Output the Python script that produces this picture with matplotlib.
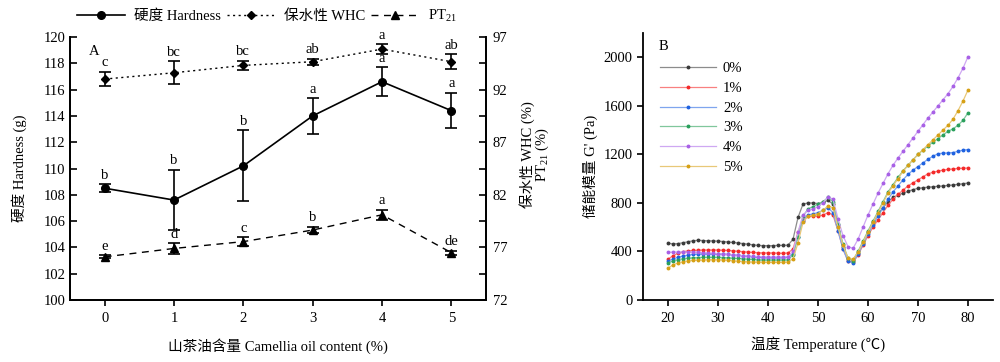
import matplotlib
matplotlib.use("Agg")
import matplotlib.pyplot as plt
from matplotlib.lines import Line2D
import numpy as np

plt.rcParams['font.family'] = ['Liberation Serif', 'Noto Sans CJK SC', 'DejaVu Sans']
plt.rcParams['mathtext.fontset'] = 'custom'
plt.rcParams['mathtext.rm'] = 'Liberation Serif'
plt.rcParams['axes.unicode_minus'] = False

# ---------------- Panel A data ----------------
oil = [0, 1, 2, 3, 4, 5]
hardness = [108.5, 107.6, 110.2, 114.0, 116.6, 114.4]
hardness_err = [0.3, 2.3, 2.7, 1.35, 1.1, 1.35]
hardness_sig = ['b', 'b', 'b', 'a', 'a', 'a']
whc = [93.0, 93.6, 94.3, 94.65, 95.85, 94.65]
whc_err = [0.7, 1.1, 0.45, 0.3, 0.45, 0.7]
whc_sig = ['c', 'bc', 'bc', 'ab', 'a', 'ab']
pt21 = [76.1, 76.9, 77.55, 78.65, 80.1, 76.5]
pt21_err = [0.15, 0.5, 0.4, 0.3, 0.45, 0.2]
pt21_sig = ['e', 'd', 'c', 'b', 'a', 'de']

# ---------------- Panel B data ----------------
temperature = list(range(20, 81))
g_0 = [468, 462, 465, 472, 480, 488, 492, 490, 488, 487, 485, 482, 478, 474, 470, 465, 460, 455, 450, 448,
       448, 448, 450, 450, 452, 500, 680, 790, 800, 800, 795, 805, 820, 790, 620, 440, 340, 330, 390, 470,
       560, 640, 710, 760, 810, 845, 865, 880, 895, 910, 920, 925, 930, 933, 937, 940, 944, 948, 953, 958, 964]
g_1 = [336, 365, 385, 398, 405, 408, 410, 412, 412, 412, 412, 410, 408, 405, 402, 398, 395, 392, 390, 388,
       388, 388, 386, 385, 388, 420, 560, 660, 690, 695, 690, 700, 720, 700, 570, 420, 320, 310, 370, 450,
       530, 600, 660, 720, 780, 830, 870, 905, 940, 965, 990, 1015, 1040, 1052, 1062, 1070, 1076, 1080, 1084, 1086, 1087]
g_2 = [320, 338, 352, 362, 370, 375, 378, 380, 380, 380, 380, 378, 375, 372, 368, 365, 360, 356, 353, 350,
       350, 350, 350, 350, 352, 380, 520, 650, 700, 710, 720, 740, 760, 720, 570, 420, 320, 305, 380, 460,
       545, 620, 690, 760, 830, 890, 940, 990, 1035, 1070, 1100, 1130, 1160, 1185, 1205, 1210, 1212, 1215, 1225, 1235, 1240]
g_3 = [305, 322, 333, 340, 345, 348, 350, 352, 352, 352, 352, 350, 348, 345, 342, 340, 337, 334, 332, 330,
       330, 330, 330, 330, 332, 370, 520, 690, 750, 770, 790, 810, 845, 810, 630, 460, 345, 325, 400, 485,
       570, 650, 730, 810, 890, 950, 1010, 1065, 1110, 1155, 1200, 1235, 1270, 1300, 1330, 1360, 1390, 1410, 1440, 1480, 1543]
g_4 = [392, 395, 395, 395, 395, 395, 393, 390, 388, 385, 382, 378, 375, 372, 368, 365, 362, 360, 358, 356,
       355, 355, 355, 355, 357, 400, 560, 700, 740, 750, 770, 800, 850, 830, 670, 530, 440, 425, 500, 600,
       700, 790, 880, 960, 1040, 1110, 1170, 1225, 1280, 1335, 1390, 1445, 1500, 1550, 1600, 1650, 1700, 1760, 1830, 1910, 2005]
g_5 = [262, 290, 305, 315, 322, 326, 328, 330, 332, 332, 332, 330, 327, 323, 320, 317, 315, 313, 312, 311,
       310, 310, 310, 310, 312, 340, 470, 640, 690, 700, 710, 740, 775, 760, 600, 450, 345, 335, 395, 475,
       560, 640, 720, 800, 880, 940, 1000, 1060, 1110, 1155, 1200, 1240, 1280, 1320, 1360, 1400, 1440, 1490, 1560, 1640, 1730]
series_labels = ['0%', '1%', '2%', '3%', '4%', '5%']
series_colors = ['#3a3a3a', '#f42a2a', '#1f62e0', '#2aa05c', '#a860e6', '#d6a015']
line_colors = ['#8c8c8c', '#f88080', '#7fa5ee', '#80c79c', '#cfa8f2', '#e8c878']

fig = plt.figure(figsize=(10, 3.62), dpi=100)

# ---------------- Panel A ----------------
ax = fig.add_axes([0.070, 62 / 362, 0.416, 263 / 362])
ax2 = ax.twinx()
fs = 10.5
ls_whc = (0, (1.5, 2.5))
ls_pt = (0, (5, 4))

ax.errorbar(oil, hardness, yerr=hardness_err, color='black', lw=1.2, marker='o', ms=5.5,
            capsize=4, elinewidth=1.2, capthick=1.2, ls='-')
ax2.errorbar(oil, whc, yerr=whc_err, color='black', lw=1.0, marker='D', ms=4.5,
             capsize=4, elinewidth=1.2, capthick=1.2, ls=ls_whc)
ax2.errorbar(oil, pt21, yerr=pt21_err, color='black', lw=1.0, marker='^', ms=6,
             capsize=4, elinewidth=1.2, capthick=1.2, ls=ls_pt)

ax.set_xlim(-0.5, 5.5)
ax.set_ylim(100, 120)
ax.set_yticks(np.arange(100, 121, 2))
ax2.set_ylim(72, 97)
ax2.set_yticks([72, 77, 82, 87, 92, 97])
ax2.set_yticks(np.arange(74.5, 97, 5), minor=True)
ax.set_xticks(oil)

for a in (ax, ax2):
    a.spines['top'].set_visible(False)
    for s in a.spines.values():
        s.set_linewidth(1.3)
ax.tick_params(axis='y', direction='in', length=5, width=1.2, labelsize=fs)
ax.tick_params(axis='x', direction='out', length=4, width=1.2, labelsize=fs, pad=5)
ax2.tick_params(axis='y', which='major', direction='in', length=5, width=1.2, labelsize=fs, pad=5)
ax2.tick_params(axis='y', which='minor', direction='in', length=5, width=1.2)

ax.set_ylabel('硬度 Hardness (g)', fontsize=fs, labelpad=12)
ax.set_xlabel('山茶油含量 Camellia oil content (%)', fontsize=fs, labelpad=9)
fig.text(535 / 1000, 1 - 155 / 362, '保水性 WHC (%)\nPT$_{21}$ (%)', rotation=90, ha='center',
         va='center', multialignment='center', fontsize=fs, linespacing=0.95)
ax.text(0.045, 0.97, 'A', transform=ax.transAxes, fontsize=fs, ha='left', va='top')

for x, y, e, s in zip(oil, hardness, hardness_err, hardness_sig):
    ax.text(x, y + e + 0.2, s, ha='center', va='bottom', fontsize=fs)
for x, y, e, s in zip(oil, whc, whc_err, whc_sig):
    ax2.text(x, y + e + 0.25, s, ha='center', va='bottom', fontsize=fs)
for x, y, e, s in zip(oil, pt21, pt21_err, pt21_sig):
    ax2.text(x, y + e + 0.25, s, ha='center', va='bottom', fontsize=fs)

handles = [Line2D([], [], color='black', lw=1.2, marker='o', ms=5.5, ls='-'),
           Line2D([], [], color='black', lw=1.0, marker='D', ms=4.5, ls=ls_whc),
           Line2D([], [], color='black', lw=1.0, marker='^', ms=6, ls=ls_pt)]
fig.legend(handles, ['硬度 Hardness', '保水性 WHC', 'PT$_{21}$'], loc='center',
           bbox_to_anchor=(0.267, 1 - 16 / 362), ncol=3, frameon=False, fontsize=fs,
           handlelength=3.3, columnspacing=0.4, handletextpad=0.6)

# ---------------- Panel B ----------------
bx = fig.add_axes([0.643, 62 / 362, 0.350, 267 / 362])
all_series = [g_0, g_1, g_2, g_3, g_4, g_5]
for vals, lab, mc, lc in zip(all_series, series_labels, series_colors, line_colors):
    bx.plot(temperature, vals, color=lc, lw=0.9, marker='o', ms=1.8, mfc=mc, mec=mc, label=lab)
bx.set_xlim(15, 85)
bx.set_ylim(0, 2200)
bx.set_xticks([20, 30, 40, 50, 60, 70, 80])
bx.set_yticks([0, 400, 800, 1200, 1600, 2000])
bx.spines['top'].set_visible(False)
bx.spines['right'].set_visible(False)
for s in bx.spines.values():
    s.set_linewidth(1.3)
bx.tick_params(axis='both', direction='out', length=4, width=1.2, labelsize=fs)
bx.tick_params(axis='x', pad=5)
bx.set_ylabel("储能模量 G' (Pa)", fontsize=fs, labelpad=4)
bx.set_xlabel('温度 Temperature (℃)', fontsize=fs, labelpad=8)
bx.text(0.045, 0.975, 'B', transform=bx.transAxes, fontsize=fs, ha='left', va='top')
bx.legend(loc='upper left', bbox_to_anchor=(0.02, 0.93), frameon=False, fontsize=fs,
          handlelength=3.8, handletextpad=0.5, labelspacing=0.45, borderpad=0.2)

fig.savefig('out.png', dpi=100)
